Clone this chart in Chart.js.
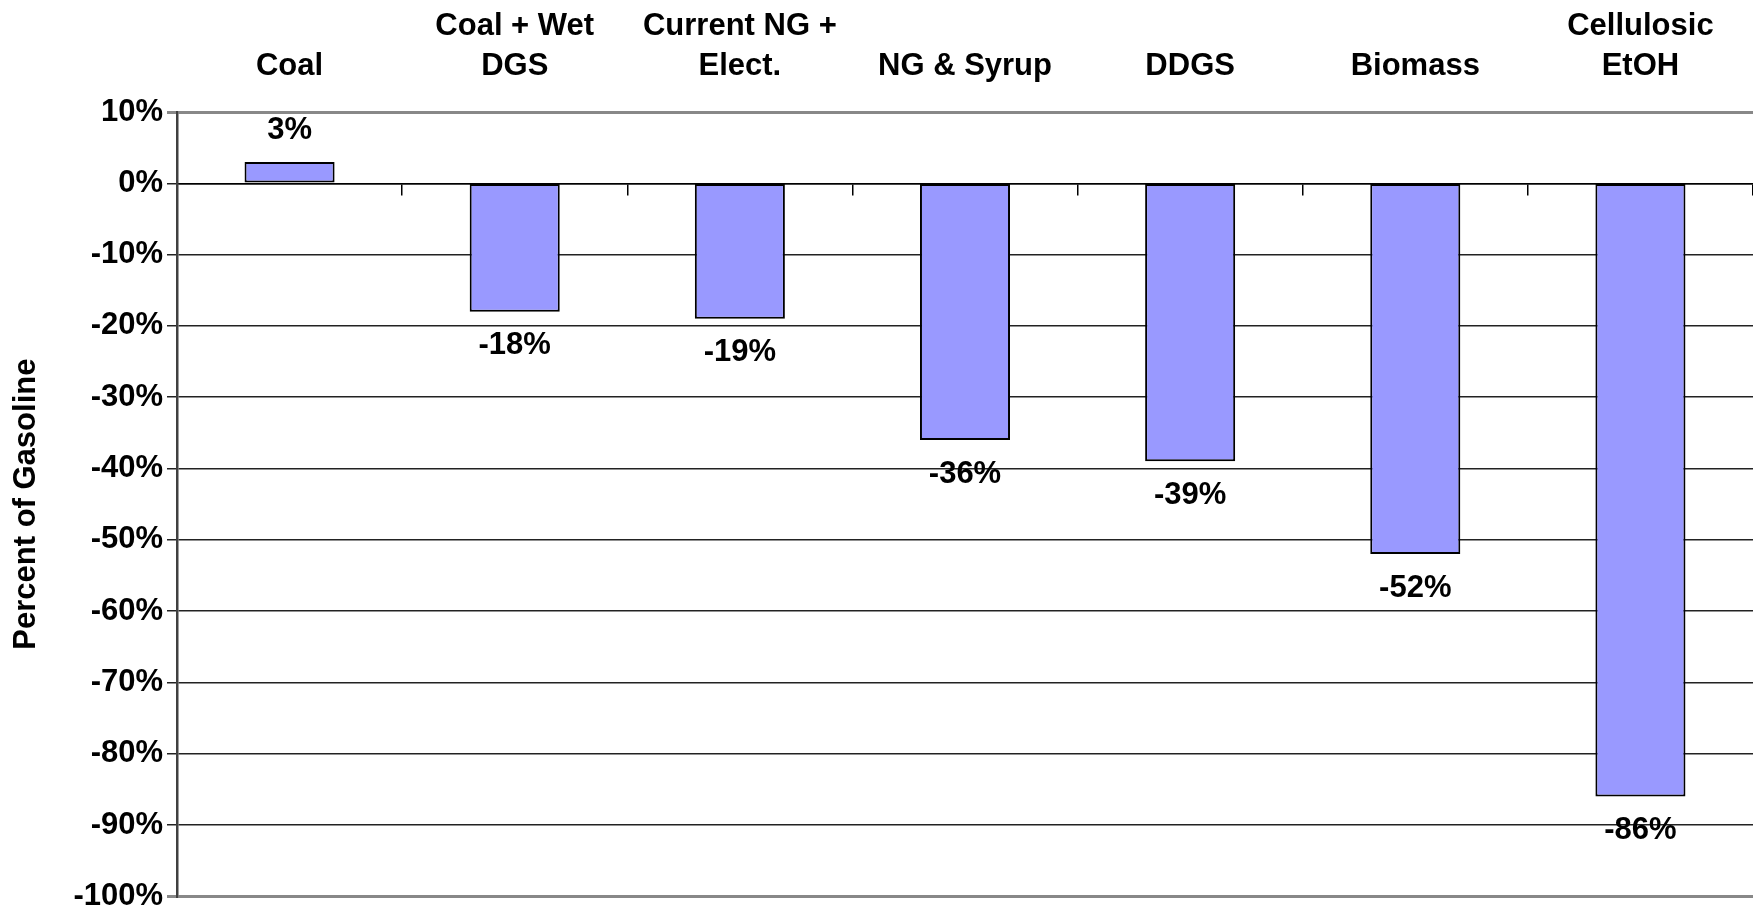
<!DOCTYPE html>
<html>
<head>
<meta charset="utf-8">
<script src="https://cdn.jsdelivr.net/npm/chart.js@4/dist/chart.umd.min.js"></script>
<style>
  body { margin: 0; background: #fff; }
  #chart { display: block; }
</style>
</head>
<body>
<canvas id="chart" width="1753" height="908"></canvas>
<script>
// categories + values
const categories = [
    ["Coal"],
    ["Coal + Wet", "DGS"],
    ["Current NG +", "Elect."],
    ["NG & Syrup"],
    ["DDGS"],
    ["Biomass"],
    ["Cellulosic", "EtOH"]
]
const values = [3, -18, -19, -36, -39, -52, -86]
const yMin = -100
const yMax = 10
const yStep = 10

const fontFam = "'Liberation Sans', Arial, sans-serif"
const isEdge = c => c.tick && (c.tick.value === yMax || c.tick.value === yMin)

// draws the % labels above/below each bar
const barLabels = {
    id: "barLabels",
    afterDatasetsDraw(chart) {
        const ctx = chart.ctx
        const meta = chart.getDatasetMeta(0)
        ctx.save()
        ctx.font = "bold 31px " + fontFam
        ctx.fillStyle = "#000"
        ctx.textAlign = "center"
        ctx.textBaseline = "middle"
        meta.data.forEach((bar, i) => {
            const v = values[i]
            const y = v >= 0 ? bar.y - 31 : bar.y + 34
            ctx.fillText(v + "%", bar.x, y)
        })
        ctx.restore()
    }
}

const ctx = document.getElementById("chart").getContext("2d")
new Chart(ctx, {
    type: "bar",
    data: {
        labels: categories,
        datasets: [{
            data: values,
            backgroundColor: "#9999FF",
            borderColor: "#000",
            borderWidth: 2,
            borderSkipped: false,
            barPercentage: 0.4,
            categoryPercentage: 1
        }]
    },
    options: {
        responsive: false,
        animation: false,
        layout: { padding: { top: 0, right: 0, bottom: 0, left: 0 } },
        plugins: {
            legend: { display: false },
            tooltip: { enabled: false }
        },
        scales: {
            x: {
                position: "top",
                grid: { display: false, drawTicks: false },
                border: { display: false },
                afterFit: scale => { scale.height = 112 },
                ticks: {
                    color: "#000",
                    padding: 26,
                    maxRotation: 0,
                    autoSkip: false,
                    font: { family: fontFam, size: 31, weight: "bold", lineHeight: 1.29 }
                }
            },
            // little tick marks hanging off the 0% line
            x2: {
                type: "category",
                position: { y: 0 },
                offset: true,
                grid: {
                    offset: true,
                    drawOnChartArea: false,
                    drawTicks: true,
                    tickLength: 11,
                    color: "#000",
                    lineWidth: 1.5
                },
                border: { display: true, color: "#000", width: 1.5 },
                ticks: { display: false }
            },
            y: {
                min: yMin,
                max: yMax,
                afterFit: scale => { scale.width = 177 },
                ticks: {
                    stepSize: yStep,
                    color: "#000",
                    padding: 4,
                    font: { family: fontFam, size: 31, weight: "bold", lineHeight: 0.5 },
                    callback: v => v + "%"
                },
                grid: {
                    tickLength: 10,
                    color: c => isEdge(c) ? "#888" : "#222",
                    lineWidth: c => isEdge(c) ? 3 : 1.5
                },
                border: { display: true, color: "#404040", width: 2.5 },
                title: {
                    display: true,
                    text: "Percent of Gasoline",
                    color: "#000",
                    padding: { top: 8, bottom: 16 },
                    font: { family: fontFam, size: 31, weight: "bold" }
                }
            }
        }
    },
    plugins: [barLabels]
})
</script>
</body>
</html>
